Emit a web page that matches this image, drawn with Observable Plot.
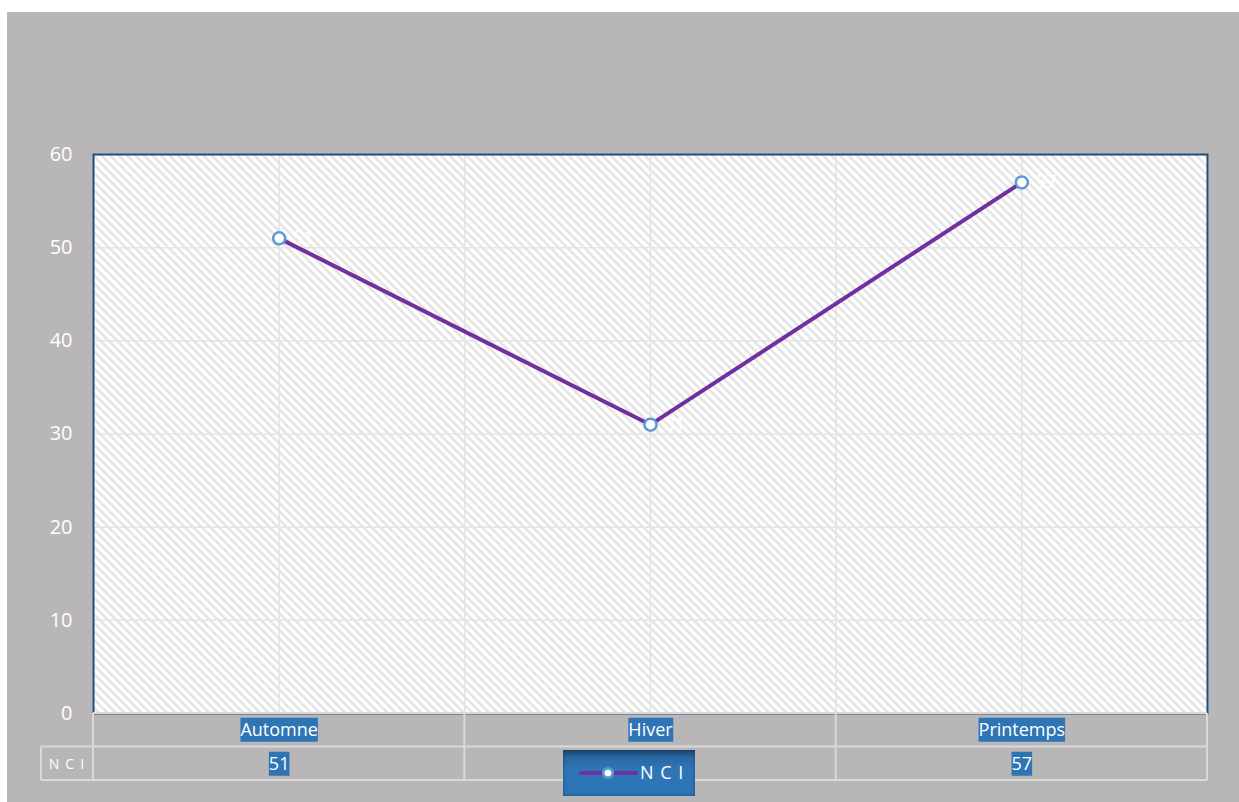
<!DOCTYPE html>
<html>
<head>
<meta charset="utf-8">
<script src="https://cdn.jsdelivr.net/npm/d3@7"></script>
<script src="https://cdn.jsdelivr.net/npm/@observablehq/plot@0.6"></script>
<style>
  html, body { margin: 0; padding: 0; background: #ffffff; width: 1239px; height: 802px; overflow: hidden; }
  #wrap { position: absolute; left: 7px; top: 12px; width: 1232px; height: 790px; background: #b8b6b7; }
  #legend { position: absolute; left: 556px; top: 738px; width: 132px; height: 46px;
    background: linear-gradient(to bottom, #1d4a73 0%, #2a69a6 18%, #2e75b6 40%, #2e75b6 100%);
    box-shadow: inset 0 0 4px rgba(0,0,0,0.35); font-family: "Open Sans", sans-serif; color: #fff; }
  #legend svg { position: absolute; left: 0; top: 0; }
  #legend span { position: absolute; left: 77px; top: 9px; font-size: 18px; letter-spacing: 1px; line-height: 26px; }
</style>
</head>
<body>
<div id="wrap"></div>
<script>
const categories = ["Automne", "Hiver", "Printemps"];
const seriesName = "N C I";
const values = [51, 31, 57];
const yTicks = [0, 10, 20, 30, 40, 50, 60];

const data = categories.map((c, i) => ({cat: c, pos: i + 0.5, value: values[i]}));
const xGrid = d3.range(0, categories.length + 0.01, 0.5);

const W = 1232, H = 790;
const mL = 86, mR = 32, mT = 142, mB = 89;

const chart = Plot.plot({
  width: W,
  height: H,
  marginLeft: mL,
  marginRight: mR,
  marginTop: mT,
  marginBottom: mB,
  style: {background: "#b8b6b7", color: "white", fontFamily: "Open Sans, sans-serif", fontSize: "18px", overflow: "visible"},
  x: {domain: [0, categories.length], axis: null},
  y: {domain: [0, 60], axis: null},
  marks: [
    Plot.frame({fill: "url(#hatch)", stroke: "none"}),
    Plot.gridY(yTicks, {stroke: "#e4e4e4", strokeOpacity: 1, strokeWidth: 1.5}),
    Plot.gridX(xGrid, {stroke: "#e4e4e4", strokeOpacity: 1, strokeWidth: 1.5}),
    Plot.frame({stroke: "#1f4e79", strokeWidth: 2}),
    Plot.axisY(yTicks, {tickSize: 0, tickPadding: 21, fontSize: 20, fill: "white", label: null}),
    Plot.line(data, {x: "pos", y: "value", stroke: "#7030a0", strokeWidth: 4}),
    Plot.dot(data, {x: "pos", y: "value", r: 6, fill: "white", stroke: "#5b9bd5", strokeWidth: 2.5}),
    Plot.text(data, {x: "pos", y: "value", text: d => String(d.value), dx: 14, textAnchor: "start", fill: "white", fontSize: 18}),
    Plot.text(data, {x: "pos", y: () => 0, text: "cat", dy: 17, fill: "white", fontSize: 18, ariaDescription: "table-cell"}),
    Plot.text(data, {x: "pos", y: () => 0, text: d => String(d.value), dy: 51, fill: "white", fontSize: 18, ariaDescription: "table-cell"})
  ]
});

document.getElementById("wrap").appendChild(chart);

const svg = d3.select(chart);
// hatch pattern
const defs = svg.insert("defs", ":first-child");
const pat = defs.append("pattern")
  .attr("id", "hatch").attr("patternUnits", "userSpaceOnUse")
  .attr("width", 6).attr("height", 6)
  .attr("patternTransform", "rotate(-45)");
pat.append("rect").attr("width", 6).attr("height", 6).attr("fill", "#ffffff");
pat.append("line").attr("x1", 1.5).attr("y1", 0).attr("x2", 1.5).attr("y2", 6)
  .attr("stroke", "#e0e0e0").attr("stroke-width", 2.2);

// table lines
const xs = chart.scale("x"), ys = chart.scale("y");
const y0 = ys.apply(0), row = 33.5;
const xL = xs.apply(0), xR = xs.apply(categories.length), xCell = xL - 52;
const tbl = svg.append("g").attr("stroke", "#d9d9d9").attr("stroke-width", 2).attr("fill", "none");
tbl.append("line").attr("x1", xL).attr("x2", xR).attr("y1", y0).attr("y2", y0);
tbl.append("line").attr("x1", xCell).attr("x2", xR).attr("y1", y0 + row).attr("y2", y0 + row);
tbl.append("line").attr("x1", xCell).attr("x2", xR).attr("y1", y0 + 2 * row).attr("y2", y0 + 2 * row);
tbl.append("line").attr("x1", xCell).attr("x2", xCell).attr("y1", y0 + row).attr("y2", y0 + 2 * row);
for (let i = 0; i <= categories.length; i++) {
  const xv = xs.apply(i);
  tbl.append("line").attr("x1", xv).attr("x2", xv).attr("y1", y0).attr("y2", y0 + 2 * row);
}
svg.append("text").attr("x", (xCell + xL) / 2).attr("y", y0 + 1.5 * row)
  .attr("text-anchor", "middle").attr("dominant-baseline", "central")
  .attr("fill", "white").attr("font-size", 14).attr("letter-spacing", 1.2)
  .text(seriesName);

// blue highlight behind table cell texts
svg.selectAll("g[aria-description='table-cell'] text").each(function() {
  const b = this.getBBox();
  d3.select(this.parentNode).insert("rect", () => this)
    .attr("x", b.x).attr("y", b.y + 0.5).attr("width", b.width).attr("height", b.height)
    .attr("transform", this.getAttribute("transform"))
    .attr("fill", "#2e75b6");
});

// legend
const lg = document.createElement("div");
lg.id = "legend";
lg.innerHTML = `<svg width="132" height="46">
  <line x1="18" x2="73" y1="23" y2="23" stroke="#7030a0" stroke-width="4" stroke-linecap="round"/>
  <circle cx="45" cy="23" r="6" fill="#5b9bd5"/>
  <circle cx="45" cy="23" r="3.3" fill="#ffffff"/>
</svg><span>${seriesName}</span>`;
document.getElementById("wrap").appendChild(lg);
</script>
</body>
</html>
